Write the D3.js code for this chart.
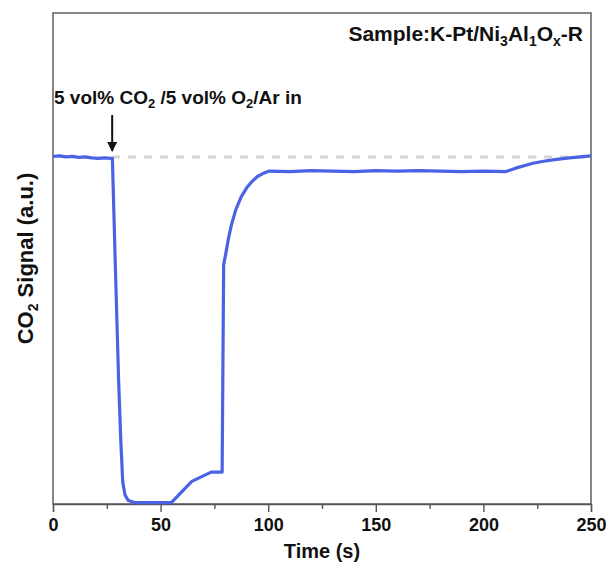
<!DOCTYPE html>
<html>
<head>
<meta charset="utf-8">
<script src="https://cdn.jsdelivr.net/npm/d3@7"></script>
<style>
  body { margin: 0; background: #fff; }
  svg text { font-family: "Liberation Sans", Arial, sans-serif; font-weight: bold; fill: #111; }
</style>
</head>
<body>
<svg id="chart" width="608" height="572"></svg>
<script>
// CO2 signal (arbitrary units, 0..100)
const time = [0, 3, 6, 9, 12, 15, 18, 21, 24, 27, 27.6, 29, 30.5, 31.5, 32.4, 33.5, 35, 38, 45, 50, 55,
  64.5, 73.5, 78.6, 79.3, 80.5, 81.5, 83, 85, 87.5, 90, 92.5, 95, 97.5, 100.5,
  110, 120, 130, 140, 150, 160, 170, 180, 190, 200, 210.5,
  215, 223, 228, 234, 240, 245, 250];
const signal = [70.8, 70.9, 70.7, 70.8, 70.6, 70.7, 70.5, 70.4, 70.5, 70.4, 70.4, 48, 25, 13, 4.5, 1.8, 0.7, 0.3, 0.3, 0.3, 0.3,
  4.6, 6.5, 6.5, 48.7, 51.5, 54, 57, 60, 62.6, 64.4, 65.7, 66.7, 67.3, 67.8,
  67.7, 67.9, 67.8, 67.7, 67.9, 67.8, 67.9, 67.8, 67.7, 67.8, 67.7,
  68.4, 69.4, 69.8, 70.2, 70.5, 70.7, 70.9];

const baseline = 70.67;
const gasInTime = 27.5;
const xTicks = [0, 50, 100, 150, 200, 250];
const xMinorTicks = [25, 75, 125, 175, 225];

const svg = d3.select('#chart');
const margin = { left: 53, right: 17, top: 13, bottom: 68 };
const W = 608, H = 572;

const x = d3.scaleLinear().domain([0, 250]).range([margin.left, W - margin.right]);
const y = d3.scaleLinear().domain([0, 100]).range([H - margin.bottom, margin.top]);

// frame
svg.append('rect')
  .attr('x', x(0)).attr('y', y(100))
  .attr('width', x(250) - x(0)).attr('height', y(0) - y(100))
  .attr('fill', 'none').attr('stroke', '#555').attr('stroke-width', 1.4);

// x axis
const xAxis = svg.append('g').attr('transform', `translate(0,${y(0)})`)
  .call(d3.axisBottom(x).tickValues(xTicks).tickSize(8).tickPadding(6).tickFormat(d3.format('d')));
xAxis.select('.domain').attr('stroke', '#555').attr('stroke-width', 1.4);
xAxis.selectAll('.tick line').attr('stroke', '#555').attr('stroke-width', 1.4);
xAxis.selectAll('.tick text').attr('font-size', 18).attr('font-family', null).attr('fill', '#111');

svg.append('g').attr('transform', `translate(0,${y(0)})`)
  .call(d3.axisBottom(x).tickValues(xMinorTicks).tickSize(5).tickFormat(''))
  .call(g => g.select('.domain').remove())
  .selectAll('.tick line').attr('stroke', '#555').attr('stroke-width', 1.4);

// dashed reference level
svg.append('line')
  .attr('x1', x(gasInTime)).attr('x2', x(250))
  .attr('y1', y(baseline)).attr('y2', y(baseline))
  .attr('stroke', '#d4d4d4').attr('stroke-width', 3).attr('stroke-dasharray', '8,8');

// signal line
const line = d3.line().x(d => x(d)).y((d, i) => y(signal[i]));
svg.append('path')
  .datum(time)
  .attr('d', line)
  .attr('fill', 'none')
  .attr('stroke', '#4a63e4')
  .attr('stroke-width', 3.2)
  .attr('stroke-linejoin', 'round');

// arrow
svg.append('defs').append('marker')
  .attr('id', 'head').attr('viewBox', '0 0 10 10')
  .attr('refX', 9).attr('refY', 5)
  .attr('markerWidth', 5).attr('markerHeight', 5)
  .attr('orient', 'auto')
  .append('path').attr('d', 'M0,0 L10,5 L0,10 Z').attr('fill', '#111');

svg.append('line')
  .attr('x1', x(gasInTime)).attr('x2', x(gasInTime))
  .attr('y1', 115).attr('y2', 151)
  .attr('stroke', '#111').attr('stroke-width', 2)
  .attr('marker-end', 'url(#head)');

// annotation text
const ann = svg.append('text').attr('x', 54).attr('y', 104).attr('font-size', 19);
ann.append('tspan').text('5 vol% CO');
ann.append('tspan').attr('font-size', 13).attr('dy', 4).text('2');
ann.append('tspan').attr('dy', -4).text(' /5 vol% O');
ann.append('tspan').attr('font-size', 13).attr('dy', 4).text('2');
ann.append('tspan').attr('dy', -4).text('/Ar in');

// sample label
const title = svg.append('text').attr('x', 583).attr('y', 41).attr('font-size', 21).attr('text-anchor', 'end');
title.append('tspan').text('Sample:K-Pt/Ni');
title.append('tspan').attr('font-size', 14).attr('dy', 5).text('3');
title.append('tspan').attr('dy', -5).text('Al');
title.append('tspan').attr('font-size', 14).attr('dy', 5).text('1');
title.append('tspan').attr('dy', -5).text('O');
title.append('tspan').attr('font-size', 14).attr('dy', 5).text('x');
title.append('tspan').attr('dy', -5).text('-R');

// axis titles
svg.append('text')
  .attr('x', (x(0) + x(250)) / 2).attr('y', 558)
  .attr('text-anchor', 'middle').attr('font-size', 20)
  .text('Time (s)');

const yl = svg.append('text')
  .attr('transform', `translate(33,${(y(0) + y(100)) / 2}) rotate(-90)`)
  .attr('text-anchor', 'middle').attr('font-size', 22);
yl.append('tspan').text('CO');
yl.append('tspan').attr('font-size', 14).attr('dy', 5).text('2');
yl.append('tspan').attr('dy', -5).text(' Signal (a.u.)');
</script>
</body>
</html>
